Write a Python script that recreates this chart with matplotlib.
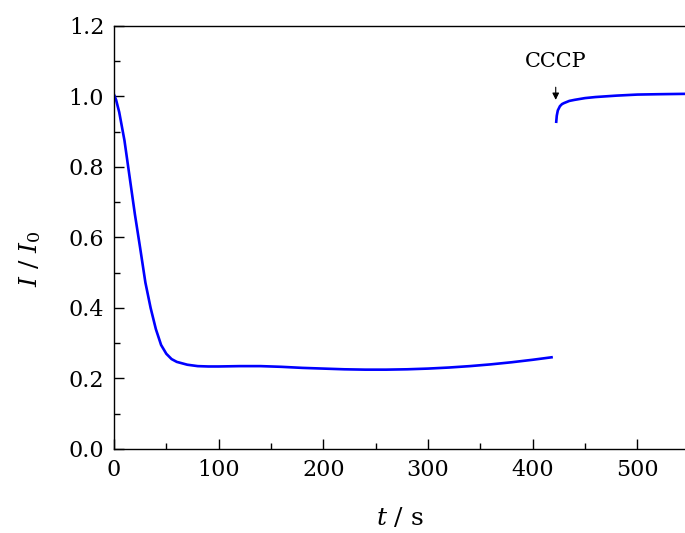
import numpy as np
import matplotlib.pyplot as plt
from matplotlib.ticker import MultipleLocator

# before CCCP addition
t_before = [0, 2, 5, 10, 15, 20, 25, 30, 35, 40, 45, 50, 55, 60, 70, 80, 90,
            100, 120, 140, 160, 180, 200, 220, 240, 260, 280, 300, 320, 340,
            360, 380, 400, 418]
i_before = [1.005, 0.99, 0.955, 0.875, 0.77, 0.665, 0.57, 0.472, 0.40, 0.34,
            0.295, 0.27, 0.255, 0.247, 0.239, 0.235, 0.234, 0.234, 0.235,
            0.235, 0.233, 0.230, 0.228, 0.226, 0.225, 0.225, 0.226, 0.228,
            0.231, 0.235, 0.240, 0.246, 0.253, 0.260]

# after CCCP addition
t_after = [422.5, 423, 424, 426, 428, 430, 435, 440, 450, 460, 480, 500, 520, 545]
i_after = [0.928, 0.945, 0.96, 0.972, 0.978, 0.981, 0.987, 0.99, 0.995, 0.998,
           1.002, 1.005, 1.006, 1.007]

plt.rcParams['font.family'] = 'DejaVu Serif'
plt.rcParams['mathtext.fontset'] = 'dejavuserif'

fig = plt.figure(figsize=(6.85, 5.33), dpi=100)
ax = fig.add_axes([0.1664, 0.1576, 0.8336, 0.794])

ax.plot(t_before, i_before, color='#0000ff', lw=1.9)
ax.plot(t_after, i_after, color='#0000ff', lw=1.9)

ax.annotate('CCCP', xy=(422, 0.99), xytext=(422, 1.10), ha='center', va='center',
            fontsize=15,
            arrowprops=dict(arrowstyle='-|>', color='black', lw=0.8,
                            mutation_scale=10, shrinkA=10, shrinkB=0))

ax.set_xlim(0, 545.5)
ax.set_ylim(0, 1.2)
ax.xaxis.set_major_locator(MultipleLocator(100))
ax.xaxis.set_minor_locator(MultipleLocator(50))
ax.yaxis.set_major_locator(MultipleLocator(0.2))
ax.yaxis.set_minor_locator(MultipleLocator(0.1))
ax.yaxis.set_major_formatter(plt.FormatStrFormatter('%.1f'))
ax.tick_params(which='both', direction='in', labelsize=16, width=1.0,
               right=False, top=False)
ax.tick_params(which='major', length=7, pad=7)
ax.tick_params(which='minor', length=4)
ax.spines['right'].set_visible(False)
for s in ['left', 'bottom', 'top']:
    ax.spines[s].set_linewidth(1.0)

ax.set_xlabel(r'$t$ / s', fontsize=18)
ax.set_ylabel(r'$I$ / $I_0$', fontsize=18)
ax.xaxis.set_label_coords(0.5, -0.135)
ax.yaxis.set_label_coords(-0.125, 0.45)

fig.savefig('out.png', dpi=100)
